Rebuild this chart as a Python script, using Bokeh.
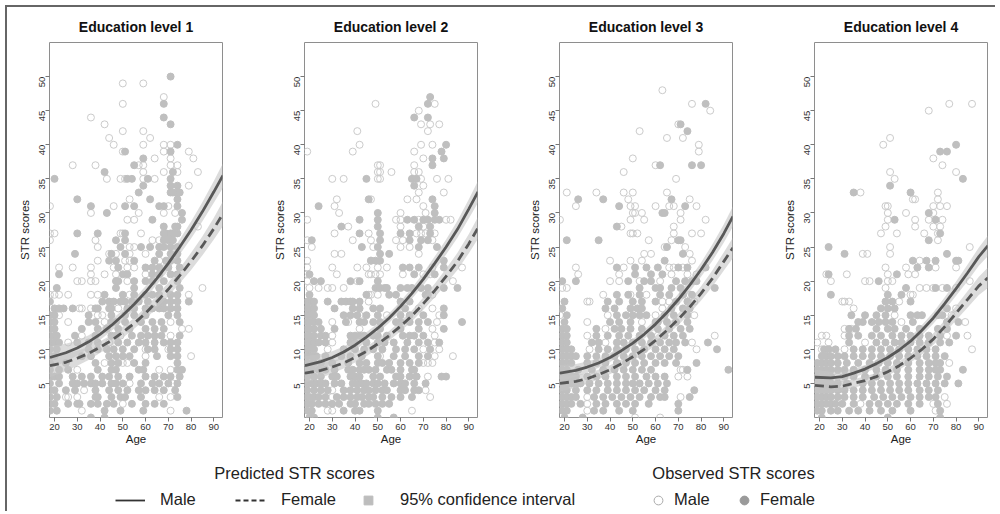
import math
from bokeh.plotting import figure
from bokeh.layouts import row, column
from bokeh.models import Legend, LegendItem, Label, Range1d, FixedTicker
from bokeh.embed import file_html
from bokeh.resources import INLINE

FONT = "Liberation Sans"

titles = ["Education level 1", "Education level 2", "Education level 3", "Education level 4"]
x_ticks = [20, 30, 40, 50, 60, 70, 80, 90]
y_ticks = [5, 10, 15, 20, 25, 30, 35, 40, 45, 50]

# fitted curves at these ages
curve_age = [18, 25, 30, 35, 40, 45, 50, 55, 60, 65, 70, 75, 80, 85, 90, 94]
e1_male_fit = [8.8, 9.5, 10.2, 11.1, 12.2, 13.5, 15.0, 16.6, 18.4, 20.4, 22.6, 25.0, 27.5, 30.2, 33.1, 35.5]
e1_female_fit = [7.6, 8.1, 8.7, 9.4, 10.3, 11.3, 12.5, 13.8, 15.3, 17.0, 18.8, 20.8, 22.9, 25.2, 27.7, 29.9]
e2_male_fit = [7.6, 8.2, 8.8, 9.6, 10.6, 11.8, 13.1, 14.6, 16.3, 18.2, 20.3, 22.6, 25.0, 27.6, 30.6, 33.1]
e2_female_fit = [6.5, 6.9, 7.4, 8.0, 8.8, 9.7, 10.8, 12.0, 13.4, 14.9, 16.7, 18.6, 20.7, 22.9, 25.5, 27.8]
e3_male_fit = [6.5, 6.9, 7.4, 8.0, 8.8, 9.8, 10.9, 12.2, 13.7, 15.4, 17.3, 19.4, 21.7, 24.2, 27.0, 29.5]
e3_female_fit = [5.0, 5.3, 5.7, 6.3, 7.0, 7.9, 8.9, 10.0, 11.3, 12.8, 14.4, 16.2, 18.2, 20.4, 22.9, 24.9]
e4_male_fit = [5.9, 5.8, 6.0, 6.5, 7.1, 7.9, 8.8, 9.9, 11.2, 12.8, 14.6, 16.7, 18.9, 21.2, 23.6, 25.2]
e4_female_fit = [4.7, 4.5, 4.6, 5.0, 5.4, 6.0, 6.7, 7.6, 8.7, 10.0, 11.5, 13.3, 15.3, 17.3, 19.3, 20.5]

# half width of the 95% confidence band at the same ages
e1_ci = [1.7, 1.3, 1.1, 0.95, 0.85, 0.8, 0.8, 0.8, 0.85, 0.9, 1.0, 1.1, 1.25, 1.4, 1.6, 1.8]
e2_ci = [1.4, 1.1, 0.9, 0.8, 0.75, 0.7, 0.7, 0.7, 0.75, 0.8, 0.9, 1.0, 1.1, 1.25, 1.4, 1.6]
e3_ci = [1.2, 0.95, 0.8, 0.7, 0.65, 0.6, 0.6, 0.65, 0.7, 0.75, 0.85, 0.95, 1.05, 1.2, 1.35, 1.5]
e4_ci = [1.1, 0.9, 0.75, 0.65, 0.6, 0.55, 0.55, 0.6, 0.65, 0.75, 0.85, 0.95, 1.05, 1.2, 1.35, 1.5]

# observed (age, STR score) points
e1_male = [(50,49),(59,49),(68,47),(50,46),(36,44),(42,43),(50,42),(59,42),(44,41),(62,41),
    (46,40),(59,40),(68,40),(71,40),(50,39),(68,39),(79,39),(64,38),(71,38),(81,38),
    (28,37),(38,37),(57,37),(59,37),(71,37),(74,37),(59,36),(68,36),(74,36),(83,36),
    (43,35),(49,35),(51,35),(59,35),(64,35),(79,34),(53,32),(18,31),(46,31),(70,31),
    (36,30),(57,30),(68,30),(73,30),(52,29),(55,29),(83,28),(18,27),(20,27),(49,27),(50,27),(58,27),
    (18,26),(38,26),(63,26),(66,26),(39,25),(53,25),(55,25),(44,24),(47,24),(53,24),(60,24),
    (39,23),(51,23),(53,23),(66,23),(22,22),(28,22),(36,22),(46,22),(52,22),(55,22),
    (36,21),(42,21),(47,21),(60,21),(30,20),(32,20),(36,20),(38,20),(52,20),(85,19),
    (18,18),(20,18),(22,18),(26,18),(36,18),(39,18),(53,18),(79,18),(31,16),(32,16),(36,16),(48,16),
    (22,15),(39,15),(41,15),(26,14),(42,14),(71,14),(76,13),(79,13),(32,12),(49,12),(71,12),
    (26,11),(44,11),(60,10),(70,10),(60,9),(80,9),(42,8),(50,8),(52,8),(30,7),(66,7),(71,7),
    (53,5),(72,5),(33,4),(25,3),(26,3),(30,3),(66,3),(71,3),(50,2),(32,1),(71,1)]
e1_female = [(71,50),(68,46),(68,44),(71,43),(74,40),(51,39),(71,39),(59,38),(55,37),(42,36),(72,36),
    (20,35),(52,35),(54,35),(61,35),(71,35),(59,34),(71,34),(74,34),
    (57,33),(71,33),(72,33),(74,33),(75,33),(30,32),(62,32),(74,32),
    (36,31),(51,31),(55,31),(66,31),(68,31),(74,31),(43,30),(76,30),(63,29),(76,29),
    (68,28),(73,28),(74,28),(30,27),(39,27),(51,27),(68,27),(69,27),(71,27),(72,27),(74,27),
    (47,26),(51,26),(68,26),(70,26),(72,26),(49,25),(58,25),(62,25),(66,25),(68,25),(71,25),(74,25),
    (29,24),(45,24),(51,24),(66,24),(71,24),(74,24),(44,23),(47,23),(55,23),(64,23),(69,23),(71,23),(74,23),
    (48,22),(60,22),(63,22),(66,22),(70,22),(75,22),(22,21),(50,21),(52,21),(63,21),(66,21),(71,21),(74,21),
    (47,20),(48,20),(55,20),(60,20),(63,20),(68,20),(74,20),(21,19),(47,19),(55,19),(66,19),(75,19),
    (42,18),(50,18),(55,18),(60,18),(63,18),(66,18),(71,18),(74,18),
    (18,17),(41,17),(44,17),(46,17),(49,17),(51,17),(54,17),(57,17),(61,17),(66,17),(68,17),(71,17),(74,17),(79,17),
    (20,16),(22,16),(24,16),(28,16),(38,16),(39,16),(44,16),(45,16),(52,16),(55,16),(60,16),(63,16),(66,16),(68,16),(71,16),(74,16),
    (18,15),(20,15),(35,15),(45,15),(51,15),(55,15),(60,15),(70,15),(74,15),
    (18,14),(20,14),(35,14),(38,14),(45,14),(47,14),(51,14),(58,14),(63,14),(67,14),(75,14),
    (18,13),(20,13),(32,13),(39,13),(43,13),(48,13),(53,13),(60,13),(64,13),(68,13),
    (18,12),(20,12),(21,12),(29,12),(38,12),(45,12),(47,12),(54,12),(58,12),(61,12),(64,12),(67,12),(75,12),
    (18,11),(20,11),(22,11),(30,11),(35,11),(39,11),(48,11),(52,11),(57,11),(60,11),(64,11),(68,11),(71,11),(74,11),
    (18,10),(21,10),(35,10),(39,10),(43,10),(46,10),(50,10),(55,10),(61,10),(64,10),(71,10),(74,10),
    (18,9),(20,9),(32,9),(36,9),(44,9),(47,9),(50,9),(53,9),(65,9),(71,9),(74,9),
    (18,8),(25,8),(38,8),(45,8),(48,8),(55,8),(60,8),(74,8),
    (18,7),(22,7),(26,7),(39,7),(45,7),(47,7),(57,7),(59,7),(74,7),(76,7),
    (18,6),(20,6),(22,6),(28,6),(32,6),(36,6),(41,6),(44,6),(48,6),(53,6),(60,6),(64,6),(68,6),(71,6),(75,6),
    (18,5),(22,5),(28,5),(30,5),(33,5),(36,5),(38,5),(41,5),(45,5),(47,5),(50,5),(58,5),(63,5),(66,5),(70,5),(74,5),
    (18,4),(20,4),(25,4),(29,4),(38,4),(44,4),(48,4),(52,4),(57,4),(60,4),(64,4),(68,4),(73,4),
    (18,3),(21,3),(38,3),(39,3),(45,3),(49,3),(51,3),(58,3),(74,3),
    (18,2),(20,2),(26,2),(30,2),(31,2),(36,2),(39,2),(43,2),(46,2),(54,2),(60,2),(64,2),(68,2),
    (18,1),(21,1),(42,1),(49,1),(59,1),(78,1),(36,0),(42,0)]

e2_male = [(49,46),(75,46),(68,45),(69,43),(73,43),(77,43),(41,42),(72,42),(42,40),(69,40),(74,40),
    (19,39),(39,39),(66,39),(70,38),(50,37),(51,37),(66,37),(50,36),(51,36),(56,36),(66,36),(68,36),
    (30,35),(35,35),(50,35),(51,35),(69,35),(76,35),(81,35),(70,34),(68,33),(79,33),
    (32,32),(47,32),(63,32),(67,32),(31,31),(70,31),(33,30),(60,30),(71,30),
    (19,29),(58,29),(60,29),(68,29),(80,29),(82,29),(37,28),(60,28),(70,28),
    (31,27),(46,27),(67,27),(69,27),(71,27),(75,27),(19,26),(39,26),(47,26),(58,26),(61,26),(74,26),
    (21,25),(48,25),(60,25),(64,25),(31,24),(34,24),(68,24),(19,23),(47,23),
    (19,22),(30,22),(41,22),(45,22),(50,22),(54,22),(74,22),(87,22),
    (19,21),(32,21),(46,21),(47,21),(49,21),(51,21),(61,21),(70,21),(73,21),
    (19,20),(41,20),(83,20),(20,19),(24,19),(28,19),(30,19),(35,19),
    (46,18),(47,18),(50,18),(74,18),(46,17),(60,16),(68,16),(74,16),(42,15),(54,15),(77,15),
    (30,14),(37,14),(76,14),(42,13),(74,13),(30,12),(75,12),(30,11),(75,11),(28,10),(70,10),(77,10),
    (51,9),(75,9),(83,9),(70,8),(72,8),(74,8),(67,6),(72,6),(30,4),(71,4),(30,3),(73,3),(28,1),(30,1),(65,1)]
e2_female = [(73,47),(72,46),(66,44),(72,44),(80,40),(78,39),(79,38),(74,38),(74,37),(45,35),(65,35),(67,35),
    (66,34),(46,32),(74,32),(24,31),(75,31),(50,30),(75,30),
    (42,29),(50,29),(63,29),(66,29),(70,29),(72,29),(75,29),(77,29),(34,28),(50,28),(68,28),(73,28),
    (42,27),(51,27),(60,27),(64,27),(73,27),(21,26),(51,26),(64,26),(69,26),(72,26),
    (43,25),(50,25),(68,25),(76,25),(51,24),(55,24),(47,23),(49,23),(51,23),(79,23),
    (61,22),(64,22),(68,22),(79,22),(20,21),(66,21),(75,21),(22,20),(25,20),(38,20),(42,20),(50,20),
    (49,19),(51,19),(53,19),(54,19),(60,19),(63,19),(65,19),(69,19),(72,19),(79,19),(85,19),
    (20,18),(45,18),(55,18),(58,18),(71,18),(72,18),
    (19,17),(21,17),(22,17),(28,17),(34,17),(36,17),(38,17),(39,17),(42,17),(60,17),(64,17),
    (19,16),(20,16),(22,16),(31,16),(39,16),(42,16),(48,16),(51,16),(62,16),(79,16),
    (19,15),(21,15),(22,15),(35,15),(38,15),(41,15),(45,15),(50,15),(60,15),(64,15),(70,15),(79,15),
    (19,14),(20,14),(22,14),(24,14),(36,14),(42,14),(44,14),(48,14),(51,14),(58,14),(60,14),(64,14),(68,14),(72,14),(87,14),
    (19,13),(20,13),(22,13),(25,13),(31,13),(51,13),(60,13),(68,13),(79,13),
    (19,12),(20,12),(22,12),(25,12),(27,12),(38,12),(40,12),(42,12),(44,12),(48,12),(50,12),(54,12),(61,12),(64,12),(66,12),(70,12),
    (19,11),(20,11),(22,11),(24,11),(27,11),(38,11),(40,11),(45,11),(50,11),(53,11),(57,11),(63,11),(68,11),(72,11),(77,11),
    (19,10),(20,10),(22,10),(35,10),(40,10),(44,10),(48,10),(52,10),(58,10),(62,10),(66,10),(73,10),
    (19,9),(21,9),(23,9),(27,9),(34,9),(38,9),(43,9),(50,9),(57,9),(62,9),(68,9),(72,9),
    (19,8),(21,8),(22,8),(25,8),(30,8),(37,8),(42,8),(45,8),(50,8),(52,8),(55,8),(60,8),(64,8),(68,8),
    (19,7),(21,7),(24,7),(27,7),(31,7),(37,7),(39,7),(42,7),(44,7),(46,7),(49,7),(54,7),(56,7),(60,7),(65,7),(66,7),
    (19,6),(22,6),(25,6),(30,6),(32,6),(38,6),(40,6),(42,6),(48,6),(51,6),(58,6),(60,6),(64,6),(67,6),(78,6),(80,6),
    (19,5),(21,5),(23,5),(25,5),(27,5),(31,5),(34,5),(39,5),(41,5),(43,5),(45,5),(48,5),(50,5),(53,5),(57,5),(60,5),(62,5),(66,5),(71,5),
    (19,4),(22,4),(25,4),(28,4),(35,4),(38,4),(41,4),(44,4),(46,4),(49,4),(52,4),(54,4),(60,4),(62,4),(66,4),(68,4),
    (19,3),(20,3),(22,3),(24,3),(27,3),(32,3),(35,3),(38,3),(41,3),(43,3),(46,3),(48,3),(52,3),(56,3),(60,3),(65,3),
    (19,2),(21,2),(24,2),(27,2),(30,2),(33,2),(38,2),(40,2),(44,2),(46,2),(49,2),(52,2),(55,2),
    (19,1),(21,1),(35,1),(40,1),(42,1),(50,1),(20,0),(22,0),(50,0),(57,0)]

e3_male = [(63,48),(76,46),(84,45),(70,43),(53,42),(72,41),(65,41),(79,40),(79,39),(50,38),(60,37),(46,36),(69,35),
    (21,33),(34,33),(46,33),(50,33),(65,33),(48,32),(75,32),
    (25,31),(49,31),(51,31),(60,31),(66,31),(68,31),(78,31),(50,30),(51,30),(54,30),(71,30),
    (18,29),(49,29),(55,29),(71,29),(82,29),(45,28),(68,28),(49,27),(50,27),(52,27),(68,27),(76,27),(80,27),
    (57,26),(67,26),(64,25),(73,25),(55,24),(58,24),(75,24),(40,23),(49,23),(54,23),(76,23),
    (25,22),(46,22),(66,22),(68,22),(72,22),(26,21),(44,21),(67,21),(74,21),(78,21),
    (40,20),(44,20),(53,20),(62,20),(19,19),(21,19),(37,18),(49,18),(56,18),(75,18),
    (30,17),(31,17),(63,17),(66,17),(77,17),(18,16),(63,16),(18,15),(39,15),(60,15),(77,15),
    (30,14),(54,14),(38,13),(30,12),(61,12),(86,12),(38,11),(76,11),(31,10),(78,10),
    (71,7),(72,7),(70,6),(74,6),(30,3),(71,3),(30,2),(30,1),(51,0),(62,0)]
e3_female = [(82,46),(71,43),(74,42),(62,37),(76,37),(80,37),(26,32),(37,32),(67,32),(44,31),(73,31),(63,30),(64,30),
    (43,28),(21,26),(35,26),(70,26),(71,26),(65,25),(72,24),(64,23),
    (43,22),(51,22),(56,22),(61,22),(70,22),(74,22),(82,22),(51,21),(58,21),(63,21),
    (19,20),(25,20),(48,20),(55,20),(58,20),(69,20),(73,20),(76,20),(78,20),
    (53,19),(60,19),(62,19),(67,19),(71,19),(86,19),(43,18),(48,18),(53,18),(62,18),(66,18),(72,18),(76,18),
    (20,17),(39,17),(44,17),(50,17),(54,17),(60,17),(69,17),(74,17),
    (19,16),(38,16),(42,16),(49,16),(52,16),(54,16),(67,16),(72,16),(75,16),
    (21,15),(43,15),(47,15),(50,15),(53,15),(56,15),(64,15),(68,15),(74,15),
    (20,14),(40,14),(44,14),(49,14),(60,14),(61,14),(65,14),(69,14),(74,14),
    (19,13),(21,13),(34,13),(42,13),(45,13),(49,13),(54,13),(61,13),(66,13),(71,13),(75,13),
    (19,12),(21,12),(34,12),(39,12),(44,12),(48,12),(53,12),(58,12),(64,12),(68,12),(72,12),
    (19,11),(21,11),(32,11),(35,11),(43,11),(46,11),(50,11),(54,11),(58,11),(62,11),(66,11),(69,11),(73,11),(83,11),
    (19,10),(21,10),(23,10),(35,10),(39,10),(43,10),(47,10),(51,10),(55,10),(60,10),(64,10),(68,10),(87,10),
    (19,9),(21,9),(23,9),(25,9),(30,9),(34,9),(38,9),(42,9),(46,9),(50,9),(54,9),(58,9),(62,9),(66,9),(70,9),
    (19,8),(21,8),(23,8),(30,8),(34,8),(38,8),(43,8),(47,8),(51,8),(55,8),(60,8),(64,8),(69,8),(78,8),
    (19,7),(21,7),(26,7),(32,7),(37,7),(42,7),(46,7),(50,7),(54,7),(58,7),(74,7),(92,7),
    (19,6),(21,6),(23,6),(25,6),(30,6),(34,6),(38,6),(43,6),(47,6),(51,6),(56,6),(60,6),(64,6),
    (19,5),(21,5),(23,5),(25,5),(27,5),(31,5),(35,5),(39,5),(43,5),(47,5),(50,5),(53,5),(57,5),(61,5),(65,5),
    (19,4),(21,4),(25,4),(30,4),(34,4),(39,4),(43,4),(47,4),(51,4),(55,4),(60,4),(64,4),(77,4),
    (19,3),(21,3),(23,3),(25,3),(33,3),(37,3),(41,3),(45,3),(49,3),(53,3),(58,3),(62,3),(64,3),(75,3),
    (19,2),(21,2),(23,2),(27,2),(34,2),(38,2),(43,2),(47,2),(51,2),(57,2),(70,2),
    (19,1),(21,1),(33,1),(37,1),(44,1),(50,1),(70,1),(20,0),(28,0)]

e4_male = [(77,46),(87,46),(68,45),(51,41),(48,40),(70,38),(74,37),(51,36),(80,36),(53,35),(38,33),(72,33),
    (61,32),(62,32),(72,32),(49,31),(50,31),(70,31),(73,31),(76,31),(50,30),(58,30),(70,30),
    (50,29),(62,29),(68,29),(74,29),(49,28),(62,28),(70,28),(73,28),(47,27),(54,27),(66,27),(72,27),
    (72,26),(51,25),(86,25),(39,24),(41,24),(51,24),(64,23),(49,22),(58,22),(71,22),(80,22),
    (23,21),(32,21),(50,21),(59,21),(62,21),(25,20),(40,20),(42,20),(50,20),(52,20),(86,20),
    (49,19),(64,19),(67,19),(70,19),(74,19),(80,19),(60,18),(61,18),(30,17),(31,17),(33,17),(55,17),
    (35,16),(80,16),(53,15),(78,15),(56,14),(84,14),(31,13),(34,13),(21,12),(23,12),(31,12),(76,12),(85,12),
    (19,11),(24,11),(40,11),(21,10),(31,10),(87,10),(77,8),(28,6),(75,3),(38,2),(70,2),(76,2),(71,1)]
e4_female = [(80,40),(73,39),(76,39),(83,35),(51,34),(35,33),(60,33),(68,30),(53,29),(71,29),(73,27),(68,26),(24,25),
    (31,24),(76,24),(61,23),(67,23),(71,23),(80,23),(81,23),(63,22),(68,22),(24,21),(54,21),(46,20),
    (58,19),(71,19),(76,19),(25,18),(50,18),(56,18),(49,17),(52,17),(60,17),(47,16),(50,16),(53,16),(76,16),
    (34,15),(40,15),(45,15),(49,15),(60,15),(63,15),(65,15),(72,15),(74,15),
    (37,14),(39,14),(43,14),(46,14),(49,14),(52,14),(61,14),(76,14),(81,14),
    (33,13),(36,13),(45,13),(50,13),(53,13),(58,13),(64,13),(72,13),(76,13),
    (33,12),(37,12),(43,12),(47,12),(52,12),(56,12),(60,12),(64,12),(68,12),(73,12),(80,12),
    (33,11),(45,11),(49,11),(53,11),(56,11),(60,11),(64,11),(68,11),(73,11),(77,11),
    (22,10),(24,10),(27,10),(35,10),(39,10),(43,10),(47,10),(51,10),(55,10),(59,10),(63,10),(67,10),(71,10),
    (21,9),(23,9),(25,9),(28,9),(31,9),(35,9),(39,9),(43,9),(47,9),(51,9),(55,9),(59,9),(63,9),(67,9),(71,9),(75,9),
    (19,8),(21,8),(23,8),(25,8),(28,8),(32,8),(37,8),(42,8),(46,8),(50,8),(54,8),(59,8),(64,8),(68,8),(71,8),(73,8),
    (19,7),(21,7),(23,7),(25,7),(28,7),(31,7),(35,7),(40,7),(45,7),(49,7),(54,7),(59,7),(64,7),(68,7),(71,7),(73,7),(83,7),
    (19,6),(21,6),(23,6),(25,6),(31,6),(35,6),(40,6),(45,6),(50,6),(54,6),(59,6),(64,6),(68,6),(72,6),(76,6),
    (19,5),(21,5),(23,5),(25,5),(28,5),(32,5),(39,5),(43,5),(47,5),(51,5),(55,5),(59,5),(63,5),(67,5),(71,5),(75,5),(81,5),
    (19,4),(21,4),(23,4),(25,4),(28,4),(31,4),(35,4),(39,4),(43,4),(47,4),(51,4),(55,4),(59,4),(64,4),(68,4),(72,4),
    (19,3),(21,3),(23,3),(25,3),(28,3),(31,3),(35,3),(39,3),(44,3),(48,3),(52,3),(56,3),(60,3),(64,3),(68,3),(71,3),
    (19,2),(21,2),(23,2),(25,2),(27,2),(30,2),(35,2),(42,2),(46,2),(50,2),(54,2),(59,2),(64,2),(72,2),
    (19,1),(21,1),(25,1),(28,1),(33,1),(37,1),(42,1),(47,1),(52,1),(60,1),(73,1),(21,0),(50,0),(73,0)]

panels = [
    (e1_male, e1_female, e1_male_fit, e1_female_fit, e1_ci),
    (e2_male, e2_female, e2_male_fit, e2_female_fit, e2_ci),
    (e3_male, e3_female, e3_male_fit, e3_female_fit, e3_ci),
    (e4_male, e4_female, e4_male_fit, e4_female_fit, e4_ci),
]

MALE_PT = "#cbcbcb"
FEMALE_PT = "#bfbfbf"
LINE_C = "#585858"
BAND_C = "#c4c4c4"

BL = 42       # left border of each panel figure
FW = 173      # frame width
FH = 375      # frame height


def make_panel(i, title, male, female, mfit, ffit, ci):
    width = 255 if i < 3 else BL + FW + 8
    p = figure(width=width, height=35 + FH + 34, x_range=Range1d(17.8, 93.8), y_range=Range1d(0, 55),
               output_backend="svg", toolbar_location=None,
               min_border_left=BL, min_border_right=width - BL - FW,
               min_border_top=35, min_border_bottom=34)
    p.title.text = title
    p.title.align = "center"
    p.title.text_font = FONT
    p.title.text_font_size = "14px"
    p.title.text_font_style = "bold"
    p.title.text_color = "#111111"
    p.title.standoff = 15
    p.outline_line_color = "#8e8e8e"
    p.outline_line_width = 1
    p.xgrid.visible = False
    p.ygrid.visible = False
    p.xaxis.ticker = FixedTicker(ticks=x_ticks)
    p.yaxis.ticker = FixedTicker(ticks=y_ticks)
    p.xaxis.axis_label = "Age"
    p.yaxis.axis_label = "STR scores"
    p.yaxis.major_label_orientation = math.pi / 2
    for ax in (p.xaxis[0], p.yaxis[0]):
        ax.axis_line_color = None
        ax.major_tick_in = 0
        ax.major_tick_out = 4
        ax.major_tick_line_color = "#777777"
        ax.minor_tick_line_color = None
        ax.major_label_text_font = FONT
        ax.major_label_text_font_size = "9.5px"
        ax.major_label_text_color = "#333333"
        ax.axis_label_text_font = FONT
        ax.axis_label_text_font_size = "11.5px"
        ax.axis_label_text_font_style = "normal"
        ax.axis_label_text_color = "#222222"
    p.xaxis.major_label_standoff = 2
    p.xaxis.axis_label_standoff = 0
    p.yaxis.major_label_standoff = 3
    p.yaxis.axis_label_standoff = 3

    p.scatter([a for a, s in male], [s for a, s in male], marker="circle", size=7,
              fill_color=None, line_color=MALE_PT, line_width=1)
    p.scatter([a for a, s in female], [s for a, s in female], marker="circle", size=7,
              fill_color=FEMALE_PT, line_color=FEMALE_PT, line_width=1)

    for fit in (mfit, ffit):
        lo = [v - h for v, h in zip(fit, ci)]
        hi = [v + h for v, h in zip(fit, ci)]
        p.varea(x=curve_age, y1=lo, y2=hi, fill_color=BAND_C, fill_alpha=0.6)
    p.line(curve_age, mfit, line_color=LINE_C, line_width=2.8)
    p.line(curve_age, ffit, line_color=LINE_C, line_width=2.8, line_dash="9 5")
    return p


figs = [make_panel(i, titles[i], *panels[i]) for i in range(4)]

# legend strip (its renderers hold real data that lies outside this strip's ranges,
# so only the legend samples are visible)
LEG_H = 60
leg = figure(width=985, height=LEG_H, x_range=Range1d(0, 1), y_range=Range1d(0, 1),
             output_backend="svg", toolbar_location=None, min_border=0,
             x_axis_location=None, y_axis_location=None)
leg.outline_line_color = None
leg.grid.visible = False

r_m = leg.line(curve_age, e1_male_fit, line_color="#333333", line_width=1.8)
r_f = leg.line(curve_age, e1_female_fit, line_color="#333333", line_width=1.8, line_dash="5 3")
r_ci = leg.scatter(curve_age, e1_male_fit, marker="square", fill_color="#bdbdbd", line_color="#bdbdbd")
r_om = leg.scatter([a for a, s in e1_male], [s for a, s in e1_male], marker="circle",
                   fill_color=None, line_color="#aaaaaa", line_width=1)
r_of = leg.scatter([a for a, s in e1_female], [s for a, s in e1_female], marker="circle",
                   fill_color="#9a9a9a", line_color="#9a9a9a")

ITEM_CY = 11.5


def add_legend(label, r, x, gw, gh, standoff):
    lg = Legend(items=[LegendItem(label=label, renderers=[r])], location=(x, ITEM_CY - gh / 2),
                orientation="horizontal", glyph_width=gw, glyph_height=gh, label_height=gh,
                label_standoff=standoff, label_text_font=FONT, label_text_font_size="16.5px",
                label_text_color="#222222", padding=0, margin=0, spacing=0,
                border_line_color=None, background_fill_alpha=0)
    leg.add_layout(lg)


add_legend("Male", r_m, 108, 30, 20, 15)
add_legend("Female", r_f, 228, 30, 20, 16)
add_legend("95% confidence interval", r_ci, 350, 22, 22, 21)
add_legend("Male", r_om, 640, 22, 22, 5)
add_legend("Female", r_of, 726, 22, 22, 5)

for txt, cx in (("Predicted STR scores", 287), ("Observed STR scores", 726)):
    leg.add_layout(Label(x=cx, y=38.5, x_units="screen", y_units="screen", text=txt,
                         text_align="center", text_baseline="middle", text_font=FONT,
                         text_font_size="16.5px", text_color="#222222"))

root = column(row(*figs), leg,
              styles={"margin-left": "5px", "margin-top": "5px",
                      "border-top": "2px solid #666666", "border-left": "2px solid #666666"})

open("out.html", "w").write(file_html(root, INLINE, title="STR scores by education level"))
